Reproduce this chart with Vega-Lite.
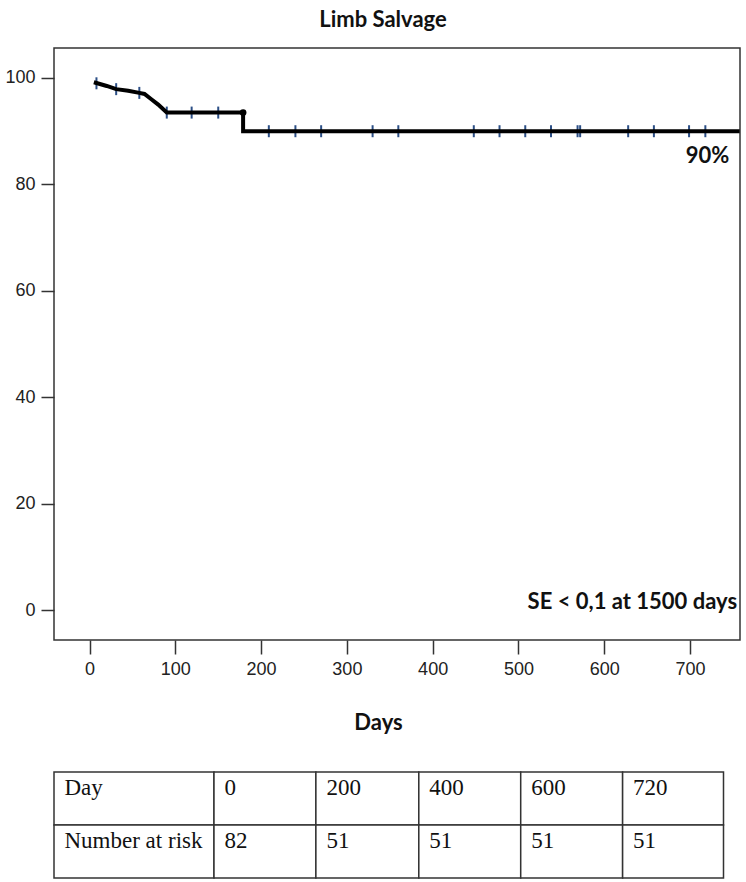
{
  "$schema": "https://vega.github.io/schema/vega-lite/v6.json",
  "background": "white",
  "padding": {"left": 4, "top": 8, "right": 5, "bottom": 4},
  "spacing": 37,
  "config": {"view": {"stroke": null}, "font": "Lato"},
  "datasets": {
    "curve": [
      {"i": 1, "day": 5, "surv": 99.2},
      {"i": 2, "day": 20, "surv": 98.5},
      {"i": 3, "day": 31, "surv": 97.9},
      {"i": 4, "day": 45, "surv": 97.6},
      {"i": 5, "day": 58, "surv": 97.2},
      {"i": 6, "day": 64, "surv": 97.0},
      {"i": 7, "day": 72, "surv": 96.0},
      {"i": 8, "day": 80, "surv": 95.0},
      {"i": 9, "day": 90, "surv": 93.5},
      {"i": 10, "day": 179, "surv": 93.5},
      {"i": 11, "day": 179, "surv": 90.0},
      {"i": 12, "day": 758, "surv": 90.0}
    ],
    "censor": [
      {"day": 8, "surv": 99.0},
      {"day": 31, "surv": 97.9},
      {"day": 58, "surv": 97.2},
      {"day": 90, "surv": 93.5},
      {"day": 119, "surv": 93.5},
      {"day": 150, "surv": 93.5},
      {"day": 209, "surv": 90.0},
      {"day": 240, "surv": 90.0},
      {"day": 270, "surv": 90.0},
      {"day": 330, "surv": 90.0},
      {"day": 360, "surv": 90.0},
      {"day": 448, "surv": 90.0},
      {"day": 478, "surv": 90.0},
      {"day": 508, "surv": 90.0},
      {"day": 538, "surv": 90.0},
      {"day": 569, "surv": 90.0},
      {"day": 572, "surv": 90.0},
      {"day": 628, "surv": 90.0},
      {"day": 658, "surv": 90.0},
      {"day": 699, "surv": 90.0},
      {"day": 718, "surv": 90.0}
    ],
    "dots": [
      {"day": 179, "surv": 93.5}
    ],
    "notes": [
      {"day": 746, "surv": 84.1, "label": "90%"},
      {"day": 755, "surv": 0.3, "label": "SE < 0,1 at 1500 days"}
    ],
    "table": [
      {"label": "Day", "c0": 0, "c1": 1.57, "r0": 0, "r1": 1},
      {"label": "0", "c0": 1.57, "c1": 2.57, "r0": 0, "r1": 1},
      {"label": "200", "c0": 2.57, "c1": 3.58, "r0": 0, "r1": 1},
      {"label": "400", "c0": 3.58, "c1": 4.58, "r0": 0, "r1": 1},
      {"label": "600", "c0": 4.58, "c1": 5.58, "r0": 0, "r1": 1},
      {"label": "720", "c0": 5.58, "c1": 6.57, "r0": 0, "r1": 1},
      {"label": "Number at risk", "c0": 0, "c1": 1.57, "r0": 1, "r1": 2},
      {"label": "82", "c0": 1.57, "c1": 2.57, "r0": 1, "r1": 2},
      {"label": "51", "c0": 2.57, "c1": 3.58, "r0": 1, "r1": 2},
      {"label": "51", "c0": 3.58, "c1": 4.58, "r0": 1, "r1": 2},
      {"label": "51", "c0": 4.58, "c1": 5.58, "r0": 1, "r1": 2},
      {"label": "51", "c0": 5.58, "c1": 6.57, "r0": 1, "r1": 2}
    ]
  },
  "vconcat": [
    {
      "width": 686,
      "height": 592,
      "title": {"text": "Limb Salvage", "font": "Lato", "fontSize": 22, "fontWeight": "bold", "color": "#111", "offset": 16, "anchor": "middle", "dx": -14},
      "view": {"stroke": "#333", "strokeWidth": 1.5},
      "encoding": {
        "x": {
          "field": "day", "type": "quantitative",
          "scale": {"domain": [-41.5, 758.4], "nice": false, "zero": false},
          "axis": {
            "values": [0, 100, 200, 300, 400, 500, 600, 700],
            "domain": false, "grid": false,
            "tickSize": 14, "tickWidth": 1.5, "tickColor": "#333",
            "labelFont": "Liberation Sans", "labelFontSize": 18, "labelColor": "#222", "labelPadding": 6,
            "title": "Days", "titleFont": "Lato", "titleFontSize": 22, "titleFontWeight": "bold", "titleColor": "#111",
            "titlePadding": 34, "titleX": 324
          }
        },
        "y": {
          "field": "surv", "type": "quantitative",
          "scale": {"domain": [-5.56, 105.63], "nice": false, "zero": false},
          "axis": {
            "values": [0, 20, 40, 60, 80, 100],
            "domain": false, "grid": false,
            "tickSize": 13, "tickWidth": 1.5, "tickColor": "#333",
            "labelFont": "Liberation Sans", "labelFontSize": 18, "labelColor": "#222", "labelPadding": 6,
            "title": null
          }
        }
      },
      "layer": [
        {
          "data": {"name": "censor"},
          "mark": {"type": "tick", "orient": "vertical", "color": "#2c4f86", "thickness": 2, "size": 12, "opacity": 1}
        },
        {
          "data": {"name": "curve"},
          "mark": {"type": "line", "color": "#000", "strokeWidth": 4, "clip": true},
          "encoding": {"order": {"field": "i", "type": "quantitative"}}
        },
        {
          "data": {"name": "dots"},
          "mark": {"type": "point", "filled": true, "color": "#000", "size": 45, "opacity": 1}
        },
        {
          "data": {"name": "notes"},
          "mark": {"type": "text", "align": "right", "baseline": "alphabetic", "font": "Lato", "fontWeight": "bold", "fontSize": 22, "color": "#111"},
          "encoding": {"text": {"field": "label", "type": "nominal"}}
        }
      ]
    },
    {
      "width": 669.5,
      "height": 106,
      "data": {"name": "table"},
      "encoding": {
        "x": {"field": "c0", "type": "quantitative", "scale": {"domain": [0, 6.57], "nice": false, "zero": false}, "axis": null},
        "y": {"field": "r0", "type": "quantitative", "scale": {"domain": [0, 2], "nice": false, "zero": false, "reverse": true}, "axis": null}
      },
      "layer": [
        {
          "mark": {"type": "rect", "fill": "white", "stroke": "#333", "strokeWidth": 1.5},
          "encoding": {"x2": {"field": "c1"}, "y2": {"field": "r1"}}
        },
        {
          "mark": {"type": "text", "align": "left", "baseline": "alphabetic", "dx": 10.5, "dy": 23, "font": "Liberation Serif", "fontSize": 23, "color": "#111"},
          "encoding": {"text": {"field": "label", "type": "nominal"}}
        }
      ]
    }
  ]
}
